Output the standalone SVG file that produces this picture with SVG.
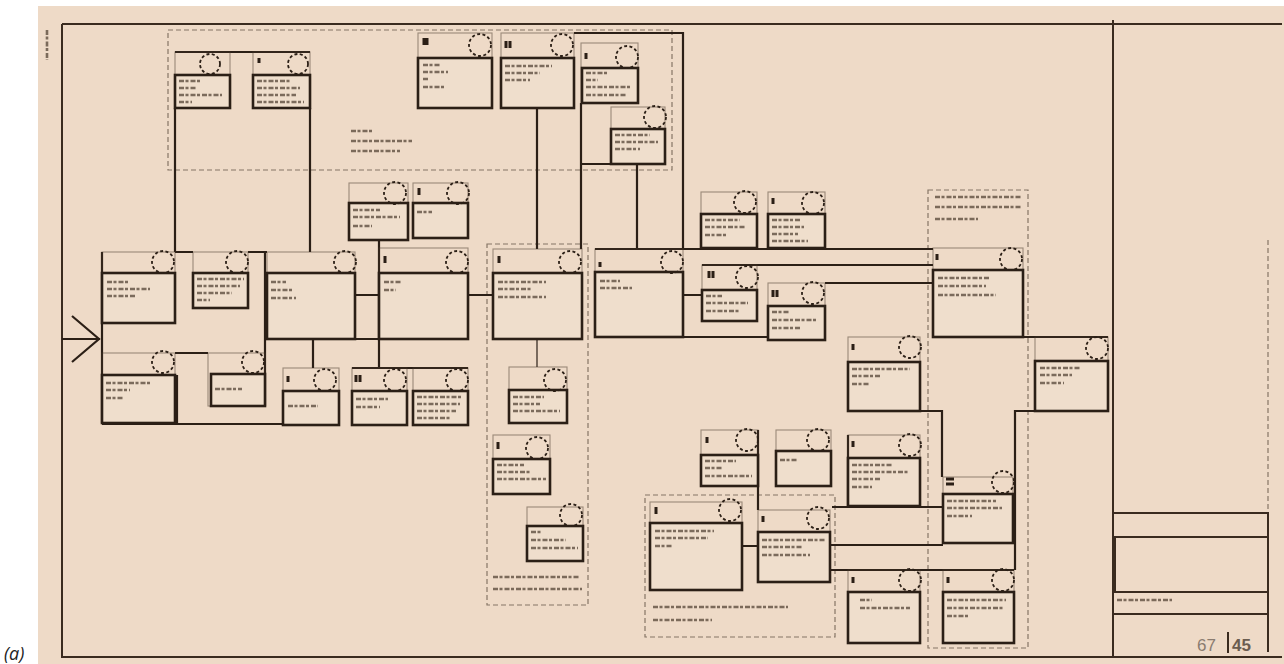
<svg xmlns="http://www.w3.org/2000/svg" width="1284" height="664" viewBox="0 0 1284 664">
<style>
.page{fill:#eedac7}
.bd{stroke:#3a2b1f;stroke-width:2;fill:none}
.fr{fill:none;stroke:#4a3a2c;stroke-width:1.1;opacity:.5}
.bx{fill:#efdecc;stroke:#2b1f16;stroke-width:2.6}
.cc{fill:none;stroke:#2b1f16;stroke-width:1.8;stroke-dasharray:3 2.4}
.w{stroke:#2b1f16;stroke-width:2.2;fill:none}
.wt{stroke:#2b1f16;stroke-width:1.2;fill:none}
.ds{stroke:#5a4a3c;stroke-width:1.2;stroke-dasharray:5 3;fill:none;opacity:.7}
.tl{stroke:#4a3a2c;stroke-width:2.6;stroke-dasharray:5 1.5 3 2;fill:none;opacity:.7}
.hn{stroke:#2b1f16;stroke-width:3;fill:none}
</style>
<rect width="1284" height="664" fill="#ffffff"/>
<rect class="page" x="38" y="6" width="1246" height="658"/>
<text x="4" y="660" font-family="Open Sans, sans-serif" font-style="italic" font-size="18" fill="#222">(a)</text>
<g id="border">
<path class="bd" d="M62 24 H1282 M62 24 V657 H1282 M1113 20 V657"/>
<path class="bd" d="M1113 513 H1268 M1113 614 H1268 M1268 512 V652"/>
<rect x="1115" y="537" width="153" height="55" fill="none" stroke="#3a2b1f" stroke-width="2"/>
<path class="ds" d="M1268 240 V512"/>
<path class="tl" d="M1117 600 H1172"/>
<text x="1197" y="651" font-family="Liberation Sans, sans-serif" font-size="17" fill="#8a7c70">67</text>
<path d="M1228 632 V653" stroke="#3a2b1f" stroke-width="2"/>
<text x="1232" y="651" font-family="Liberation Sans, sans-serif" font-size="17" font-weight="bold" fill="#6a5c50">45</text>
<path class="tl" d="M47 30 V60" stroke-width="2" opacity=".5"/>
</g>
<g id="regions">
<rect class="ds" x="168" y="30" width="504" height="140"/>
<rect class="ds" x="487" y="244" width="101" height="361"/>
<rect class="ds" x="928" y="190" width="100" height="458"/>
<rect class="ds" x="645" y="495" width="190" height="142"/>
<path class="tl" d="M351 131 H372 M351 141 H412 M351 151 H400"/>
<path class="tl" d="M493 577 H580 M493 589 H582"/>
<path class="tl" d="M935 197 H1022 M935 207 H1022 M935 219 H978"/>
<path class="tl" d="M653 607 H788 M653 620 H712"/>
</g>
<g id="connectors">
<path class="w" d="M175 52 H310 M175 108 V252 M310 108 V252 M175 252 H193 M248 252 H267 M265 252 V339"/>
<path class="w" d="M102 252 V423 M102 424 H283 M175 353 H208 M265 339 V406 M177 375 V424"/>
<path class="w" d="M62 339 H100 M72 316 L99 339 L72 362"/>
<path class="w" d="M313 339 V368 M355 295 H379 M355 339 H379 M379 240 V368 M352 368 H468 M468 295 H493"/>
<path class="w" d="M537 108 V249 M581 103 V249 M637 164 V249 M581 164 H665 M574 33 H683 V249"/>
<path class="wt" d="M537 339 V367"/>
<path class="w" d="M595 249 H933 M702 265 H933 M683 295 H702 M683 337 H768 M825 283 H933"/>
<path class="w" d="M1023 337 H1108 M1035 411 H1015 V570 M920 411 H942 V477 M848 435 V507 M832 507 H943"/>
<path class="w" d="M830 545 H943 M830 570 H1014 M742 546 H758 M758 430 V510"/>
</g>
<g id="A1"><rect class="fr" x="175" y="52" width="55" height="56"/><rect class="bx" x="175" y="75" width="55" height="33"/><circle class="cc" cx="210" cy="64" r="10"/><path class="tl" d="M179 81 H200 M179 88 H196 M179 95 H222 M179 102 H192"/></g>
<g id="A2"><rect class="fr" x="253" y="52" width="57" height="56"/><rect class="bx" x="253" y="75" width="57" height="33"/><circle class="cc" cx="298" cy="64" r="10"/><path class="tl" d="M257 81 H290 M257 88 H300 M257 95 H296 M257 102 H304"/><path class="hn" d="M259 58 V63"/></g>
<g id="B1"><rect class="fr" x="418" y="33" width="74" height="75"/><rect class="bx" x="418" y="58" width="74" height="50"/><circle class="cc" cx="480" cy="45" r="11"/><path class="tl" d="M423 65 H440 M423 72 H448 M423 79 H428 M423 87 H444"/><path class="hn" d="M424 38 V45 M427 38 V45"/></g>
<g id="B2"><rect class="fr" x="501" y="33" width="73" height="75"/><rect class="bx" x="501" y="58" width="73" height="50"/><circle class="cc" cx="562" cy="45" r="11"/><path class="tl" d="M505 66 H552 M505 73 H540 M505 80 H530"/><path class="hn" d="M506 41 V48 M510 41 V48"/></g>
<g id="C"><rect class="fr" x="581" y="43" width="57" height="60"/><rect class="bx" x="582" y="68" width="56" height="35"/><circle class="cc" cx="627" cy="57" r="11"/><path class="tl" d="M586 73 H608 M586 80 H598 M586 87 H630 M586 95 H626"/><path class="hn" d="M586 53 V59"/></g>
<g id="D"><rect class="fr" x="611" y="107" width="54" height="57"/><rect class="bx" x="611" y="129" width="54" height="35"/><circle class="cc" cx="655" cy="117" r="11"/><path class="tl" d="M615 135 H650 M615 142 H658 M615 149 H640"/></g>
<g id="C1"><rect class="fr" x="349" y="183" width="59" height="57"/><rect class="bx" x="349" y="203" width="59" height="37"/><circle class="cc" cx="395" cy="193" r="11"/><path class="tl" d="M353 210 H380 M353 217 H400 M353 226 H372"/></g>
<g id="D1"><rect class="fr" x="413" y="183" width="55" height="55"/><rect class="bx" x="413" y="203" width="55" height="35"/><circle class="cc" cx="458" cy="193" r="11"/><path class="tl" d="M417 212 H432"/><path class="hn" d="M419 188 V195"/></g>
<g id="N1"><rect class="fr" x="102" y="252" width="73" height="71"/><rect class="bx" x="102" y="273" width="73" height="50"/><circle class="cc" cx="163" cy="262" r="11"/><path class="tl" d="M107 282 H130 M107 289 H150 M107 296 H136"/></g>
<g id="N2"><rect class="fr" x="193" y="252" width="55" height="56"/><rect class="bx" x="193" y="273" width="55" height="35"/><circle class="cc" cx="237" cy="262" r="11"/><path class="tl" d="M197 279 H244 M197 286 H240 M197 293 H232 M197 300 H210"/></g>
<g id="N3"><rect class="fr" x="267" y="252" width="88" height="87"/><rect class="bx" x="267" y="273" width="88" height="66"/><circle class="cc" cx="345" cy="262" r="11"/><path class="tl" d="M271 282 H286 M271 290 H292 M271 298 H296"/></g>
<g id="N4"><rect class="fr" x="379" y="248" width="89" height="91"/><rect class="bx" x="379" y="273" width="89" height="66"/><circle class="cc" cx="457" cy="262" r="11"/><path class="tl" d="M384 282 H402 M384 290 H396"/><path class="hn" d="M385 256 V263"/></g>
<g id="N5"><rect class="fr" x="102" y="353" width="73" height="70"/><rect class="bx" x="102" y="375" width="73" height="48"/><circle class="cc" cx="163" cy="362" r="11"/><path class="tl" d="M106 383 H150 M106 390 H130 M106 398 H124"/></g>
<g id="N6"><rect class="fr" x="208" y="353" width="57" height="53"/><rect class="bx" x="211" y="374" width="54" height="32"/><circle class="cc" cx="253" cy="362" r="11"/><path class="tl" d="M215 389 H242"/></g>
<g id="N7"><rect class="fr" x="283" y="368" width="56" height="57"/><rect class="bx" x="283" y="391" width="56" height="34"/><circle class="cc" cx="325" cy="380" r="11"/><path class="tl" d="M288 406 H318"/><path class="hn" d="M288 376 V382"/></g>
<g id="N8"><rect class="fr" x="352" y="368" width="55" height="57"/><rect class="bx" x="352" y="391" width="55" height="34"/><circle class="cc" cx="395" cy="380" r="11"/><path class="tl" d="M356 399 H388 M356 407 H380"/><path class="hn" d="M356 375 V382 M360 375 V382"/></g>
<g id="N9"><rect class="fr" x="413" y="368" width="55" height="57"/><rect class="bx" x="413" y="391" width="55" height="34"/><circle class="cc" cx="457" cy="380" r="11"/><path class="tl" d="M417 397 H462 M417 404 H460 M417 411 H456 M417 418 H450"/></g>
<g id="Nh"><rect class="fr" x="493" y="249" width="89" height="90"/><rect class="bx" x="493" y="273" width="89" height="66"/><circle class="cc" cx="570" cy="262" r="11"/><path class="tl" d="M498 282 H546 M498 289 H532 M498 297 H546"/><path class="hn" d="M499 256 V263"/></g>
<g id="Ni"><rect class="fr" x="509" y="367" width="58" height="56"/><rect class="bx" x="509" y="390" width="58" height="33"/><circle class="cc" cx="555" cy="380" r="11"/><path class="tl" d="M513 397 H544 M513 404 H540 M513 411 H560"/></g>
<g id="Nj"><rect class="fr" x="493" y="435" width="57" height="59"/><rect class="bx" x="493" y="459" width="57" height="35"/><circle class="cc" cx="537" cy="448" r="11"/><path class="tl" d="M497 465 H524 M497 472 H530 M497 479 H546"/><path class="hn" d="M498 442 V449"/></g>
<g id="Nk"><rect class="fr" x="527" y="507" width="56" height="54"/><rect class="bx" x="527" y="526" width="56" height="35"/><circle class="cc" cx="571" cy="515" r="11"/><path class="tl" d="M531 532 H542 M531 540 H566 M531 548 H578"/></g>
<g id="NE"><rect class="fr" x="595" y="249" width="88" height="88"/><rect class="bx" x="595" y="272" width="88" height="65"/><circle class="cc" cx="672" cy="262" r="11"/><path class="tl" d="M600 281 H620 M600 288 H632"/><path class="hn" d="M600 262 V267"/></g>
<g id="NF1"><rect class="fr" x="701" y="192" width="56" height="56"/><rect class="bx" x="701" y="214" width="56" height="34"/><circle class="cc" cx="745" cy="202" r="11"/><path class="tl" d="M705 220 H740 M705 227 H746 M705 235 H726"/></g>
<g id="NG1"><rect class="fr" x="768" y="192" width="57" height="56"/><rect class="bx" x="768" y="214" width="57" height="34"/><circle class="cc" cx="813" cy="203" r="11"/><path class="tl" d="M772 220 H800 M772 227 H804 M772 234 H798 M772 241 H808"/><path class="hn" d="M773 198 V204"/></g>
<g id="NF"><rect class="fr" x="702" y="265" width="55" height="56"/><rect class="bx" x="702" y="290" width="55" height="31"/><circle class="cc" cx="747" cy="277" r="11"/><path class="tl" d="M706 296 H722 M706 303 H748 M706 311 H740"/><path class="hn" d="M709 271 V278 M713 271 V278"/></g>
<g id="NG"><rect class="fr" x="768" y="283" width="57" height="57"/><rect class="bx" x="768" y="306" width="57" height="34"/><circle class="cc" cx="813" cy="293" r="11"/><path class="tl" d="M772 312 H790 M772 320 H816 M772 328 H800"/><path class="hn" d="M773 290 V297 M777 290 V297"/></g>
<g id="NJ"><rect class="fr" x="933" y="248" width="90" height="89"/><rect class="bx" x="933" y="270" width="90" height="67"/><circle class="cc" cx="1011" cy="259" r="11"/><path class="tl" d="M938 278 H990 M938 286 H986 M938 295 H996"/><path class="hn" d="M937 254 V260"/></g>
<g id="NK"><rect class="fr" x="1035" y="337" width="73" height="74"/><rect class="bx" x="1035" y="361" width="73" height="50"/><circle class="cc" cx="1097" cy="348" r="11"/><path class="tl" d="M1040 368 H1080 M1040 375 H1072 M1040 383 H1064"/></g>
<g id="NL"><rect class="fr" x="848" y="337" width="72" height="74"/><rect class="bx" x="848" y="362" width="72" height="49"/><circle class="cc" cx="910" cy="347" r="11"/><path class="tl" d="M852 369 H910 M852 376 H880 M852 384 H870"/><path class="hn" d="M853 344 V350"/></g>
<g id="NN"><rect class="fr" x="848" y="435" width="72" height="71"/><rect class="bx" x="848" y="458" width="72" height="48"/><circle class="cc" cx="910" cy="445" r="11"/><path class="tl" d="M852 465 H892 M852 472 H908 M852 479 H880 M852 487 H872"/><path class="hn" d="M853 441 V447"/></g>
<g id="NM"><rect class="fr" x="943" y="477" width="70" height="66"/><rect class="bx" x="943" y="494" width="70" height="49"/><circle class="cc" cx="1003" cy="482" r="11"/><path class="tl" d="M947 501 H996 M947 508 H1002 M947 516 H972"/><path class="hn" d="M946 479 H954 M946 484 H954"/></g>
<g id="NO"><rect class="fr" x="848" y="570" width="72" height="73"/><rect class="bx" x="848" y="592" width="72" height="51"/><circle class="cc" cx="910" cy="580" r="11"/><path class="tl" d="M860 600 H872 M860 608 H910"/><path class="hn" d="M853 577 V583"/></g>
<g id="NP"><rect class="fr" x="943" y="570" width="71" height="73"/><rect class="bx" x="943" y="592" width="71" height="51"/><circle class="cc" cx="1003" cy="580" r="11"/><path class="tl" d="M947 600 H1006 M947 608 H1004 M947 616 H968"/><path class="hn" d="M948 577 V583"/></g>
<g id="NQ"><rect class="fr" x="701" y="430" width="57" height="56"/><rect class="bx" x="701" y="455" width="57" height="31"/><circle class="cc" cx="747" cy="440" r="11"/><path class="tl" d="M705 461 H736 M705 468 H722 M705 476 H752"/><path class="hn" d="M707 437 V443"/></g>
<g id="NR"><rect class="fr" x="776" y="430" width="55" height="56"/><rect class="bx" x="776" y="451" width="55" height="35"/><circle class="cc" cx="818" cy="440" r="11"/><path class="tl" d="M780 460 H798"/></g>
<g id="NS"><rect class="fr" x="758" y="510" width="72" height="72"/><rect class="bx" x="758" y="532" width="72" height="50"/><circle class="cc" cx="818" cy="518" r="11"/><path class="tl" d="M762 540 H826 M762 547 H802 M762 555 H810"/><path class="hn" d="M763 516 V522"/></g>
<g id="NT"><rect class="fr" x="650" y="502" width="92" height="88"/><rect class="bx" x="650" y="523" width="92" height="67"/><circle class="cc" cx="730" cy="510" r="11"/><path class="tl" d="M655 531 H714 M655 538 H708 M655 546 H672"/><path class="hn" d="M656 507 V514"/></g>
</svg>
